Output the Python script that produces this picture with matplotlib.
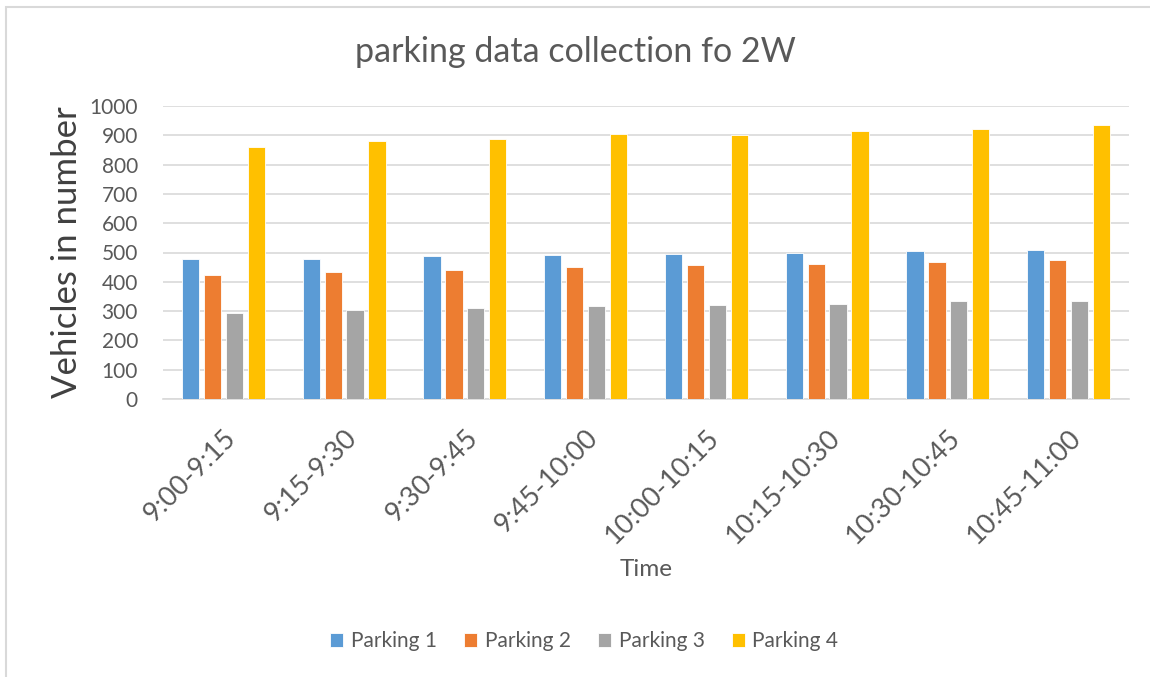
import numpy as np
import matplotlib.pyplot as plt
from matplotlib.patches import Rectangle

plt.rcParams['font.family'] = ['Lato', 'DejaVu Sans']

times = ['9:00-9:15', '9:15-9:30', '9:30-9:45', '9:45-10:00',
         '10:00-10:15', '10:15-10:30', '10:30-10:45', '10:45-11:00']
parking1 = [477, 479, 488, 491, 495, 499, 505, 510]
parking2 = [423, 433, 440, 449, 457, 462, 468, 473]
parking3 = [295, 303, 309, 316, 321, 325, 333, 334]
parking4 = [861, 882, 888, 906, 900, 914, 920, 934]

series = [parking1, parking2, parking3, parking4]
names = ['Parking 1', 'Parking 2', 'Parking 3', 'Parking 4']
colors = ['#5b9bd5', '#ed7d31', '#a5a5a5', '#ffc000']

fig = plt.figure(figsize=(11.5, 6.77), dpi=100)
ax = fig.add_axes([163/1150, 1 - 399/677, (1129-163)/1150, (399-106)/677])

x = np.arange(len(times))
width = 0.143
step = 0.182
for i, (vals, name, c) in enumerate(zip(series, names, colors)):
    ax.bar(x + (i - 1.5) * step, vals, width, color=c, label=name,
           edgecolor='white', linewidth=0.6, zorder=3)

ax.set_xlim(-0.5, len(times) - 0.5)
ax.set_ylim(0, 1000)
ax.set_yticks(range(0, 1001, 100))
ax.grid(axis='y', color='#d9d9d9', linewidth=1.2, zorder=0)
for s in ['top', 'right', 'left']:
    ax.spines[s].set_visible(False)
ax.spines['bottom'].set_color('#d9d9d9')
ax.spines['bottom'].set_linewidth(1.2)
ax.tick_params(axis='both', length=0, colors='#595959')
ax.tick_params(axis='y', labelsize=15, pad=18)
ax.set_xticks(x)
ax.set_xticklabels(times, rotation=45, ha='right', rotation_mode='anchor',
                   fontsize=19.5, color='#595959')
ax.tick_params(axis='x', pad=19)

ax.set_ylabel('Vehicles in number', fontsize=25, color='#404040')
ax.yaxis.set_label_coords(-0.083, 0.5)
ax.set_xlabel('Time', fontsize=17.5, color='#595959')
ax.xaxis.set_label_coords(0.5, -(559 - 399) / 293)
fig.text(0.5, 1 - 52/677, 'parking data collection fo 2W', ha='center',
         va='center', fontsize=24.5, color='#595959')

fig.legend(loc='center', bbox_to_anchor=(0.508, 1 - 641/677), ncol=4,
           frameon=False, fontsize=15, handlelength=0.65, handleheight=0.65,
           handletextpad=0.35, columnspacing=1.3, labelcolor='#595959')

fig.patches.append(Rectangle((6/1150, -0.1), 1.2, 1 - 7/677 + 0.1,
                             transform=fig.transFigure, fill=False,
                             edgecolor='#d9d9d9', linewidth=1.5))

fig.savefig('out.png', dpi=100)
